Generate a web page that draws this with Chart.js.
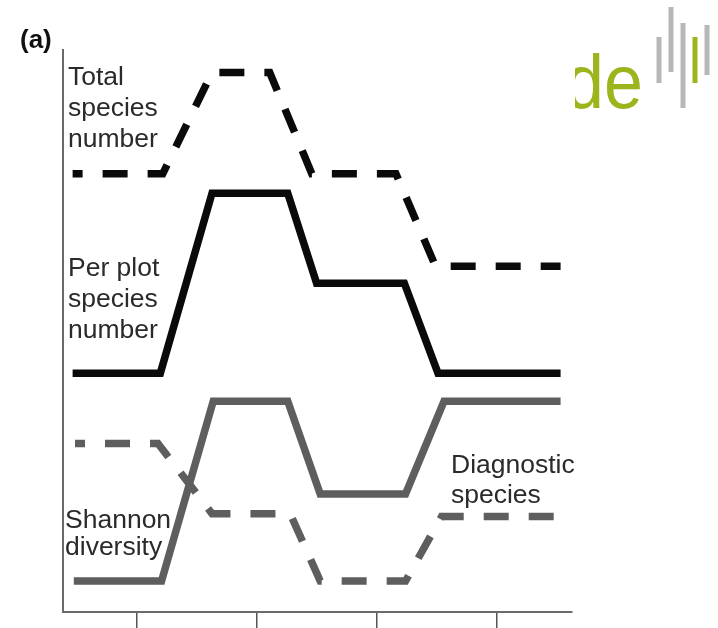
<!DOCTYPE html>
<html>
<head>
<meta charset="utf-8">
<script src="https://cdn.jsdelivr.net/npm/chart.js@4/dist/chart.umd.min.js"></script>
<style>
  body { margin: 0; background: #ffffff; }
  #wrap { position: relative; width: 718px; height: 628px; }
</style>
</head>
<body>
<div id="wrap"><canvas id="chart" width="718" height="628"></canvas></div>
<script>
// schematic values (x in tick units, y on a 0-100 scale)
const xTicks = [1, 2, 3, 4];

const totalX = [0.47, 1.22, 1.63, 2.11, 2.46, 3.16, 3.49, 4.53];
const totalY = [78, 78, 96, 96, 78, 78, 61.5, 61.5];

const perPlotX = [0.47, 1.20, 1.63, 2.26, 2.50, 3.23, 3.51, 4.53];
const perPlotY = [42.5, 42.5, 74.5, 74.5, 58.5, 58.5, 42.5, 42.5];

const shannonX = [0.48, 1.21, 1.64, 2.26, 2.53, 3.24, 3.56, 4.53];
const shannonY = [5.5, 5.5, 37.5, 37.5, 21, 21, 37.5, 37.5];

const diagX = [0.49, 1.18, 1.63, 2.28, 2.53, 3.24, 3.54, 4.54];
const diagY = [30, 30, 17.5, 17.5, 5.5, 5.5, 17, 17];

const BLACK = '#0a0a0a';
const GREY = '#5e5e5e';

const toPoints = (xs, ys) => xs.map((x, i) => ({ x: x, y: ys[i] }));

const lineStyle = (color, dashed) => ({
  borderColor: color,
  borderWidth: 7.5,
  borderDash: dashed ? [25, 20] : [],
  borderDashOffset: dashed ? 15 : 0,
  borderJoinStyle: 'miter',
  borderCapStyle: 'butt',
  pointRadius: 0,
  tension: 0,
  fill: false,
});

// text labels, placed relative to the chart area
const labels = [
  { lines: ['Total', 'species', 'number'], dx: 5, y: 85, step: 31 },
  { lines: ['Per plot', 'species', 'number'], dx: 5, y: 276, step: 31 },
  { lines: ['Shannon', 'diversity'], dx: 2, y: 528, step: 27 },
  { lines: ['Diagnostic', 'species'], dx: 388, y: 473, step: 30 },
];

const annotations = {
  id: 'annotations',
  afterDraw(chart) {
    const ctx = chart.ctx;
    const area = chart.chartArea;
    ctx.save();
    ctx.fillStyle = '#2a2a2a';
    ctx.font = '26.5px "Liberation Sans", Arial, sans-serif';
    ctx.textBaseline = 'alphabetic';
    labels.forEach(l => {
      l.lines.forEach((t, i) => ctx.fillText(t, area.left + l.dx, l.y + i * l.step));
    });

    ctx.fillStyle = '#111111';
    ctx.font = 'bold 26px "Liberation Sans", Arial, sans-serif';
    ctx.fillText('(a)', 20, 48);

    // partial logo in the top right corner
    ctx.save();
    ctx.beginPath();
    ctx.rect(575, 0, 143, 130);
    ctx.clip();
    ctx.fillStyle = '#9db51c';
    ctx.font = '70px "Liberation Sans", Arial, sans-serif';
    ctx.translate(565, 108);
    ctx.scale(1, 1.08);
    ctx.fillText('de', 0, 0);
    ctx.restore();

    const bars = [
      [659, 37, 83, '#b7b7b7'],
      [671, 7, 72, '#b7b7b7'],
      [683, 23, 108, '#b7b7b7'],
      [695, 37, 83, '#9db51c'],
      [707, 25, 75, '#b7b7b7'],
    ];
    bars.forEach(b => {
      ctx.fillStyle = b[3];
      ctx.fillRect(b[0] - 2.5, b[1], 5, b[2] - b[1]);
    });
    ctx.restore();
  }
};

const ctx = document.getElementById('chart').getContext('2d');
new Chart(ctx, {
  type: 'line',
  data: {
    datasets: [
      { label: 'Total species number', data: toPoints(totalX, totalY), ...lineStyle(BLACK, true) },
      { label: 'Per plot species number', data: toPoints(perPlotX, perPlotY), ...lineStyle(BLACK, false) },
      { label: 'Shannon diversity', data: toPoints(shannonX, shannonY), ...lineStyle(GREY, false) },
      { label: 'Diagnostic species', data: toPoints(diagX, diagY), ...lineStyle(GREY, true) },
    ],
  },
  options: {
    responsive: false,
    animation: false,
    layout: { padding: { left: 63, top: 50, right: 146, bottom: 0 } },
    plugins: {
      legend: { display: false },
      tooltip: { enabled: false },
    },
    scales: {
      x: {
        type: 'linear',
        min: 0.39,
        max: 4.625,
        afterBuildTicks: (scale) => { scale.ticks = xTicks.map(v => ({ value: v })); },
        afterFit: (scale) => { scale.height = 16; },
        ticks: { display: false },
        grid: {
          drawOnChartArea: false,
          drawTicks: true,
          tickLength: 16,
          color: '#555555',
          lineWidth: 1.5,
        },
        border: { display: true, color: '#6a6a6a', width: 2 },
      },
      y: {
        min: 0,
        max: 100,
        afterFit: (scale) => { scale.width = 0; },
        ticks: { display: false },
        grid: { drawOnChartArea: false, drawTicks: false },
        border: { display: true, color: '#6a6a6a', width: 2 },
      },
    },
  },
  plugins: [annotations],
});
</script>
</body>
</html>
